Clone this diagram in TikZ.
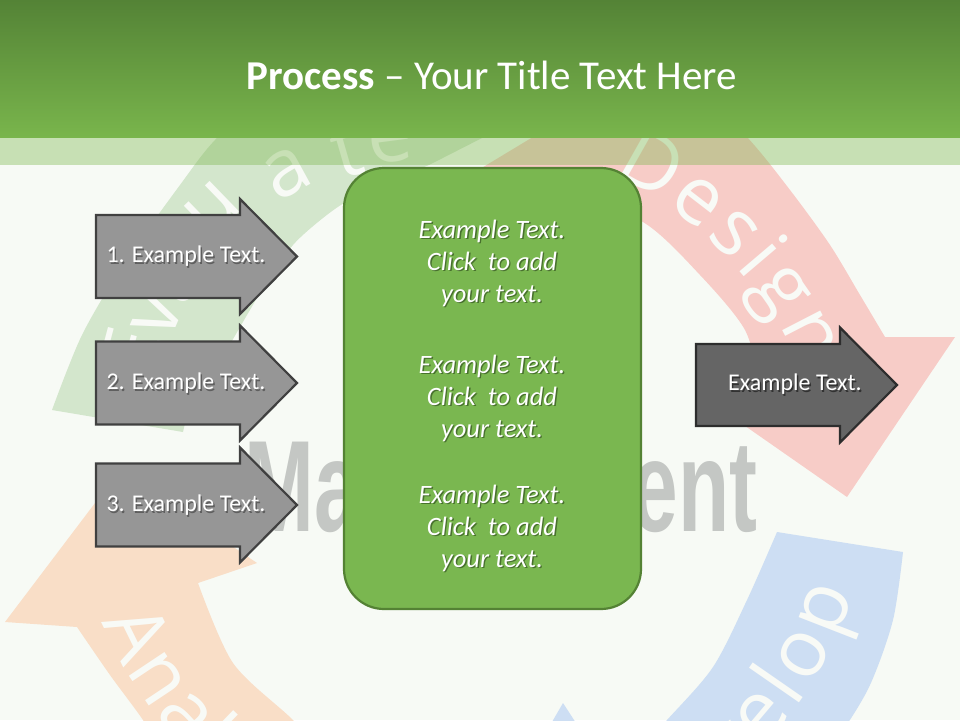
\documentclass[tikz,border=0pt]{standalone}
\usepackage{graphicx}
\usepackage{fontspec}
\setmainfont{Carlito}
\newfontfamily\bandfont{Open Sans}
\newfontfamily\mgmtfont{Liberation Sans}
\definecolor{bgc}{RGB}{247,250,245}
\definecolor{bantop}{RGB}{84,131,54}
\definecolor{banbot}{RGB}{121,181,76}
\definecolor{stripc}{RGB}{122,182,76}
\definecolor{bgreen}{RGB}{211,230,204}
\definecolor{bred}{RGB}{247,204,199}
\definecolor{bblue}{RGB}{205,222,243}
\definecolor{borange}{RGB}{249,222,199}
\definecolor{btext}{RGB}{248,250,246}
\definecolor{mgmtc}{RGB}{196,199,196}
\definecolor{boxfill}{RGB}{122,183,80}
\definecolor{boxline}{RGB}{84,130,52}
\definecolor{arrfill}{RGB}{150,150,150}
\definecolor{arrline}{RGB}{64,64,64}
\definecolor{darkfill}{RGB}{101,101,101}
\definecolor{darkline}{RGB}{45,45,45}
\definecolor{shgray}{RGB}{95,95,95}
\definecolor{shdark}{RGB}{50,50,50}
\definecolor{shgreen}{RGB}{72,112,46}
\newcommand{\shtxt}[2]{\makebox[0pt][l]{\hspace*{1.4pt}\raisebox{-1.4pt}{\textcolor{#1}{#2}}}#2}
\newcommand{\bandtxt}{\bandfont\fontsize{80}{80}\selectfont}
\begin{document}
\begin{tikzpicture}[x=1pt,y=-1pt,
  greyarrow/.style={fill=arrfill,draw=arrline,line width=2.2pt,line join=miter},
  darkarrow/.style={fill=darkfill,draw=darkline,line width=2.2pt,line join=miter},
  arrtext/.style={text=white,inner sep=0pt,font=\fontsize{24}{28}\selectfont},
  boxtext/.style={text=white,inner sep=0pt,align=center,font=\itshape\fontsize{26.5}{32}\selectfont},
  bandletter/.style={anchor=base,inner sep=0pt,text=btext,font=\bandtxt},
  bandletterc/.style={anchor=center,inner sep=0pt,text=btext,font=\bandtxt}]
\useasboundingbox (0,0) rectangle (960,720);
\fill[bgc] (0,0) rectangle (960,720);
\begin{scope}
\clip (0,0) rectangle (960,720);
% Evaluate band
\fill[bgreen] plot[smooth] coordinates {(52,410) (82,335) (125,262) (180,185) (215,140) (270,90)}
  -- (540,108) -- (484,137) -- (429,165)
  -- plot[smooth] coordinates {(380,185) (344,203) (318,222) (293,245) (268,280) (247,315) (215,370) (190,410) (183,432)} -- cycle;
% Design band
\fill[bred] plot[smooth] coordinates {(680,70) (747,137) (790,190) (830,245) (860,295) (885,337)}
  -- (955,337) -- (847,497) -- (705,398)
  -- plot[smooth] coordinates {(760,385) (745,330) (700,275) (643,222) (560,190) (470,175)}
  -- (533,137) -- (590,108) -- cycle;
% Develop band
\fill[bblue] plot[smooth] coordinates {(903,552) (893,620) (870,685) (840,735) (800,790)}
  -- (560,800) -- plot[smooth] coordinates {(620,770) (667,720) (713,667) (747,600) (777,532)} -- cycle;
\fill[bblue] (563,703) -- (600,760) -- (530,760) -- cycle;
% Analyze band
\fill[borange] (5,622) -- (120,470) -- (257,563)
  -- plot[smooth] coordinates {(198,583) (233,663) (293,720) (340,770)}
  -- (175,780) -- plot[smooth] coordinates {(160,750) (143,720) (110,675) (77,627)} -- cycle;
% band words, letter by letter
\foreach \ch/\px/\py/\rt [count=\i] in {E/132/352/75.1,v/158/316/66.9,a/178/278/58.5,l/196/245/51.3,u/213/209/44.1,a/287/173/28.7,t/347/151/16.1,e/390/140/7.4}
  \node[bandletterc,rotate=\rt] (ev\i) at (\px,\py) {\ch};
\begin{scope}[shift={(451,521)}]
\foreach \ch/\th [count=\i] in {D/299.4,e/307.67,s/314.54,i/319.66,g/325.16,n/332.72}
  \node[bandletter,rotate=-\th-90] (de\i) at (\th:382) {\ch};
\end{scope}
\begin{scope}[shift={(470,470)}]
\foreach \ch/\th [count=\i] in {D/62.0,e/53.86,v/47.03,e/40.2,l/34.76,o/29.07,p/21.3}
  \node[bandletter,rotate=90-\th] (dv\i) at (\th:403) {\ch};
\foreach \ch/\th [count=\i] in {A/153.9,n/146.31,a/139.17,l/134.01,y/129.26,z/123.12,e/116.66}
  \node[bandletter,rotate=90-\th] (an\i) at (\th:398) {\ch};
\end{scope}
\end{scope}
% background word
\node[anchor=base,text=mgmtc,inner sep=0pt] (mgmt) at (501,531)
  {\scalebox{0.645}[1]{\mgmtfont\bfseries\fontsize{130}{130}\selectfont Management}};
% translucent strip and banner
\fill[stripc,opacity=0.38] (0,137) rectangle (960,165);
\shade[top color=bantop,bottom color=banbot] (0,0) rectangle (960,137);
\node[text=white,inner sep=0pt,font=\fontsize{41}{48}\selectfont] (title) at (492,75)
  {\textbf{Process} – Your Title Text Here};
% central box
\node[draw=boxline,fill=boxfill,line width=2.2pt,rounded corners=40pt,
  minimum width=297pt,minimum height=441pt,inner sep=0pt] (box) at (492.5,388.5) {};
\node[boxtext] (b1) at (492,264) {\shtxt{shgreen}{Example Text.}\\\shtxt{shgreen}{Click\ \ to add}\\\shtxt{shgreen}{your text.}};
\node[boxtext] (b2) at (492,399) {\shtxt{shgreen}{Example Text.}\\\shtxt{shgreen}{Click\ \ to add}\\\shtxt{shgreen}{your text.}};
\node[boxtext] (b3) at (492,529) {\shtxt{shgreen}{Example Text.}\\\shtxt{shgreen}{Click\ \ to add}\\\shtxt{shgreen}{your text.}};
% left arrows
\draw[greyarrow] (96,215) -- (240,215) -- (240,199) -- (297,256.5) -- (240,314) -- (240,298) -- (96,298) -- cycle;
\draw[greyarrow] (96,341.5) -- (240,341.5) -- (240,325.5) -- (297,383) -- (240,440.5) -- (240,424.5) -- (96,424.5) -- cycle;
\draw[greyarrow] (96,463.5) -- (240,463.5) -- (240,447.5) -- (297,505) -- (240,562.5) -- (240,546.5) -- (96,546.5) -- cycle;
\node[arrtext] (a1) at (186,257) {\shtxt{shgray}{1. Example Text.}};
\node[arrtext] (a2) at (186,384) {\shtxt{shgray}{2. Example Text.}};
\node[arrtext] (a3) at (186,506) {\shtxt{shgray}{3. Example Text.}};
% right arrow
\draw[darkarrow] (696,344) -- (840,344) -- (840,327.5) -- (897,385) -- (840,442.5) -- (840,426) -- (696,426) -- cycle;
\node[arrtext] (a4) at (795,385) {\shtxt{shdark}{Example Text.}};
\end{tikzpicture}
\end{document}
